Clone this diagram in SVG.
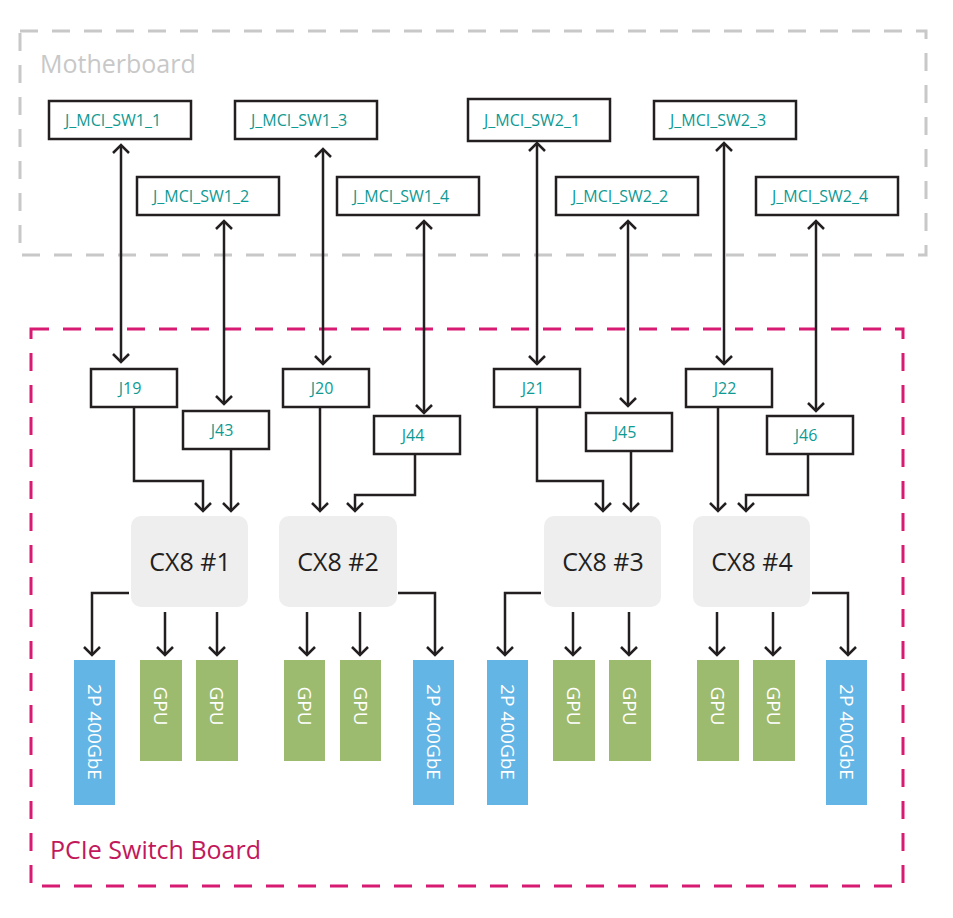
<svg xmlns="http://www.w3.org/2000/svg" width="953" height="918" viewBox="0 0 953 918">
<style>
text{font-family:"Open Sans","Noto Sans",sans-serif}
.c{fill:#fff;stroke:#231f20;stroke-width:2.5}
.t{fill:#0e9a93;font-size:16px;text-anchor:middle}
.cx{fill:#eeeeee}
.ct{fill:#231f20;font-size:25px;text-anchor:middle}
.b{fill:#62b5e5}.g{fill:#9dbb6e}
.v{fill:#fff;font-size:19px;text-anchor:middle}
.l{fill:none;stroke:#231f20;stroke-width:2.5}
</style>
<defs>
<marker id="a" markerUnits="userSpaceOnUse" markerWidth="20" markerHeight="20" refX="10" refY="10" orient="auto-start-reverse" viewBox="0 0 20 20"><path d="M2,2 L10,10 L2,18" fill="none" stroke="#231f20" stroke-width="2.5"/></marker>
</defs>
<rect x="20" y="31" width="906" height="224" fill="none" stroke="#c8c8c8" stroke-width="3" stroke-dasharray="18,14"/>
<text x="40" y="73" fill="#c8c8c8" font-size="25">Motherboard</text>
<rect x="31" y="329" width="872" height="557" fill="none" stroke="#d81b72" stroke-width="3" stroke-dasharray="18,14"/>
<text x="50" y="859" fill="#c2185b" font-size="25">PCIe Switch Board</text>
<g id="connectors" class="l">
<path d="M121,145V362" marker-start="url(#a)" marker-end="url(#a)"/>
<path d="M224,221V404" marker-start="url(#a)" marker-end="url(#a)"/>
<path d="M323,149V364" marker-start="url(#a)" marker-end="url(#a)"/>
<path d="M424,221V413" marker-start="url(#a)" marker-end="url(#a)"/>
<path d="M537,143V364" marker-start="url(#a)" marker-end="url(#a)"/>
<path d="M628,221V406" marker-start="url(#a)" marker-end="url(#a)"/>
<path d="M724,143V364" marker-start="url(#a)" marker-end="url(#a)"/>
<path d="M816,221V411" marker-start="url(#a)" marker-end="url(#a)"/>
<path d="M134,407V481H203V511" marker-end="url(#a)"/>
<path d="M231,449V511" marker-end="url(#a)"/>
<path d="M320,407V511" marker-end="url(#a)"/>
<path d="M415,454V495H355V511" marker-end="url(#a)"/>
<path d="M537,407V481H603V511" marker-end="url(#a)"/>
<path d="M631,451V511" marker-end="url(#a)"/>
<path d="M718,407V511" marker-end="url(#a)"/>
<path d="M808,454V495H746V511" marker-end="url(#a)"/>
<path d="M129,593H92V655" marker-end="url(#a)"/>
<path d="M165,612V655" marker-end="url(#a)"/>
<path d="M217,612V655" marker-end="url(#a)"/>
<path d="M307,612V655" marker-end="url(#a)"/>
<path d="M360,612V655" marker-end="url(#a)"/>
<path d="M398,593H435V655" marker-end="url(#a)"/>
<path d="M541,593H505V655" marker-end="url(#a)"/>
<path d="M573,612V655" marker-end="url(#a)"/>
<path d="M629,612V655" marker-end="url(#a)"/>
<path d="M717,612V655" marker-end="url(#a)"/>
<path d="M773,612V655" marker-end="url(#a)"/>
<path d="M812,593H848V655" marker-end="url(#a)"/>
</g>
<g id="sw1_1"><rect class="c" x="49" y="101" width="142" height="38"/><text class="t" x="113" y="126">J_MCI_SW1_1</text></g>
<g id="sw1_3"><rect class="c" x="235" y="101" width="142" height="38"/><text class="t" x="299" y="126">J_MCI_SW1_3</text></g>
<g id="sw2_1"><rect class="c" x="468" y="99" width="142" height="42"/><text class="t" x="532" y="126">J_MCI_SW2_1</text></g>
<g id="sw2_3"><rect class="c" x="654" y="101" width="142" height="38"/><text class="t" x="718" y="126">J_MCI_SW2_3</text></g>
<g id="sw1_2"><rect class="c" x="137" y="177" width="142" height="38"/><text class="t" x="201" y="202">J_MCI_SW1_2</text></g>
<g id="sw1_4"><rect class="c" x="337" y="177" width="142" height="38"/><text class="t" x="401" y="202">J_MCI_SW1_4</text></g>
<g id="sw2_2"><rect class="c" x="556" y="177" width="142" height="38"/><text class="t" x="620" y="202">J_MCI_SW2_2</text></g>
<g id="sw2_4"><rect class="c" x="756" y="177" width="142" height="38"/><text class="t" x="820" y="202">J_MCI_SW2_4</text></g>
<g id="j19"><rect class="c" x="91" y="369" width="86" height="38"/><text class="t" x="130" y="394">J19</text></g>
<g id="j43"><rect class="c" x="183" y="411" width="86" height="38"/><text class="t" x="222" y="436">J43</text></g>
<g id="j20"><rect class="c" x="283" y="369" width="86" height="38"/><text class="t" x="322" y="394">J20</text></g>
<g id="j44"><rect class="c" x="374" y="416" width="86" height="38"/><text class="t" x="413" y="441">J44</text></g>
<g id="j21"><rect class="c" x="494" y="369" width="86" height="38"/><text class="t" x="533" y="394">J21</text></g>
<g id="j45"><rect class="c" x="586" y="413" width="86" height="38"/><text class="t" x="625" y="438">J45</text></g>
<g id="j22"><rect class="c" x="686" y="369" width="86" height="38"/><text class="t" x="725" y="394">J22</text></g>
<g id="j46"><rect class="c" x="767" y="416" width="86" height="38"/><text class="t" x="806" y="441">J46</text></g>
<g id="cx1"><rect class="cx" x="131" y="516" width="117" height="91" rx="10"/><text class="ct" x="190" y="571">CX8 #1</text></g>
<g id="cx2"><rect class="cx" x="279" y="516" width="118" height="91" rx="10"/><text class="ct" x="338" y="571">CX8 #2</text></g>
<g id="cx3"><rect class="cx" x="544" y="516" width="117" height="91" rx="10"/><text class="ct" x="603" y="571">CX8 #3</text></g>
<g id="cx4"><rect class="cx" x="693" y="516" width="117" height="91" rx="10"/><text class="ct" x="752" y="571">CX8 #4</text></g>
<g id="n1"><rect class="b" x="74" y="660" width="41" height="145"/><text class="v" transform="translate(94.5,732) rotate(90)" y="7">2P 400GbE</text></g>
<g id="n2"><rect class="b" x="413" y="660" width="41" height="145"/><text class="v" transform="translate(433.5,732) rotate(90)" y="7">2P 400GbE</text></g>
<g id="n3"><rect class="b" x="487" y="660" width="41" height="145"/><text class="v" transform="translate(507.5,732) rotate(90)" y="7">2P 400GbE</text></g>
<g id="n4"><rect class="b" x="826" y="660" width="41" height="145"/><text class="v" transform="translate(846.5,732) rotate(90)" y="7">2P 400GbE</text></g>
<g id="g1"><rect class="g" x="140" y="660" width="42" height="101"/><text class="v" transform="translate(161,706) rotate(90)" y="7">GPU</text></g>
<g id="g2"><rect class="g" x="196" y="660" width="42" height="101"/><text class="v" transform="translate(217,706) rotate(90)" y="7">GPU</text></g>
<g id="g3"><rect class="g" x="284" y="660" width="41" height="101"/><text class="v" transform="translate(304.5,706) rotate(90)" y="7">GPU</text></g>
<g id="g4"><rect class="g" x="340" y="660" width="41" height="101"/><text class="v" transform="translate(360.5,706) rotate(90)" y="7">GPU</text></g>
<g id="g5"><rect class="g" x="553" y="660" width="42" height="101"/><text class="v" transform="translate(574,706) rotate(90)" y="7">GPU</text></g>
<g id="g6"><rect class="g" x="609" y="660" width="42" height="101"/><text class="v" transform="translate(630,706) rotate(90)" y="7">GPU</text></g>
<g id="g7"><rect class="g" x="697" y="660" width="42" height="101"/><text class="v" transform="translate(718,706) rotate(90)" y="7">GPU</text></g>
<g id="g8"><rect class="g" x="753" y="660" width="42" height="101"/><text class="v" transform="translate(774,706) rotate(90)" y="7">GPU</text></g>
</svg>
